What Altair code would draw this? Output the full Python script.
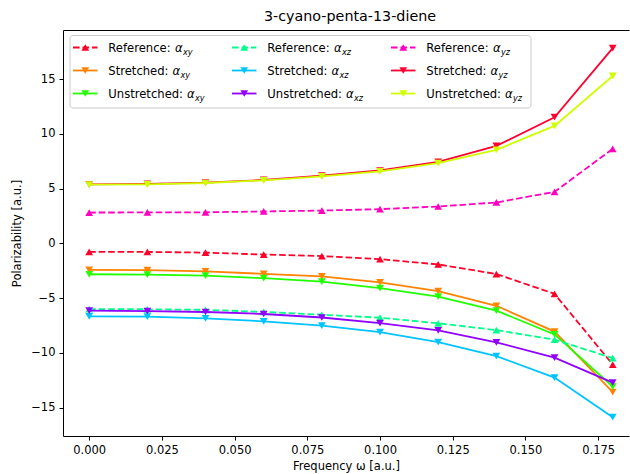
import altair as alt
import pandas as pd

# Frequencies (a.u.) and polarizability components (a.u.)
freq = [0.00, 0.02, 0.04, 0.06, 0.08, 0.10, 0.12, 0.14, 0.16, 0.18]

ref_xy = [-0.77, -0.78, -0.84, -1.02, -1.16, -1.44, -1.92, -2.80, -4.61, -11.07]
str_xy = [-2.42, -2.45, -2.55, -2.78, -3.02, -3.57, -4.37, -5.70, -8.06, -13.60]
uns_xy = [-2.82, -2.85, -2.95, -3.18, -3.50, -4.08, -4.86, -6.14, -8.32, -13.08]

ref_xz = [-6.00, -6.02, -6.07, -6.26, -6.52, -6.79, -7.30, -7.92, -8.80, -10.48]
str_xz = [-6.66, -6.70, -6.86, -7.12, -7.52, -8.10, -9.02, -10.30, -12.26, -15.88]
uns_xz = [-6.15, -6.18, -6.27, -6.45, -6.77, -7.28, -7.94, -9.04, -10.44, -12.72]

ref_yz = [2.82, 2.83, 2.84, 2.92, 3.00, 3.13, 3.37, 3.74, 4.71, 8.64]
str_yz = [5.40, 5.43, 5.55, 5.80, 6.20, 6.66, 7.45, 8.91, 11.53, 17.85]
uns_yz = [5.37, 5.40, 5.52, 5.76, 6.13, 6.58, 7.33, 8.55, 10.74, 15.30]

x_ticks = [0.0, 0.025, 0.05, 0.075, 0.1, 0.125, 0.15, 0.175]
y_ticks = [-15, -10, -5, 0, 5, 10, 15]

# (label prefix, subscript, values, colour, reference?)
series = [
    ("Reference: ", "xy", ref_xy, "#ff0029", True),
    ("Stretched: ", "xy", str_xy, "#ff8300", False),
    ("Unstretched: ", "xy", uns_xy, "#22ff00", False),
    ("Reference: ", "xz", ref_xz, "#00ff8a", True),
    ("Stretched: ", "xz", str_xz, "#00c4ff", False),
    ("Unstretched: ", "xz", uns_xz, "#9100ff", False),
    ("Reference: ", "yz", ref_yz, "#ff00bf", True),
    ("Stretched: ", "yz", str_yz, "#ff0030", False),
    ("Unstretched: ", "yz", uns_yz, "#cfff00", False),
]

FONT = "DejaVu Sans"
W, H = 566, 406
X_DOM = [-0.009, 0.1856]
Y_DOM = [-17.6, 19.5]
DASH = [6.6, 2.9]
MARK_SIZE = 60

xs = alt.Scale(domain=X_DOM, nice=False, zero=False)
ys = alt.Scale(domain=Y_DOM, nice=False, zero=False)

axis_style = dict(
    domainColor="black", tickColor="black", labelColor="black", titleColor="black",
    labelFont=FONT, titleFont=FONT, labelFontSize=11.5, titleFontSize=11.5,
    titleFontWeight="normal", tickSize=4, labelPadding=4, grid=False,
    domainWidth=1, tickWidth=1,
)

x_plain = alt.X("freq:Q", scale=xs, axis=None)
y_plain = alt.Y("value:Q", scale=ys, axis=None)

layers = []
for i, (prefix, sub, vals, color, is_ref) in enumerate(series):
    df = pd.DataFrame({"freq": freq, "value": vals})
    if i == 0:
        # the only layer that carries the bottom and left axes
        xenc = alt.X("freq:Q", scale=xs, axis=alt.Axis(
            values=x_ticks, format=".3f", title="Frequency ω [a.u.]",
            titlePadding=5, **axis_style))
        yenc = alt.Y("value:Q", scale=ys, axis=alt.Axis(
            values=y_ticks, format="d", title="Polarizability [a.u.]",
            titlePadding=8, **axis_style))
    else:
        xenc, yenc = x_plain, y_plain
    line_kw = dict(color=color, strokeWidth=1.8)
    if is_ref:
        line_kw["strokeDash"] = DASH
    layers.append(alt.Chart(df).mark_line(**line_kw).encode(x=xenc, y=yenc))
    layers.append(alt.Chart(df).mark_point(
        shape="triangle-up" if is_ref else "triangle-down",
        filled=True, size=MARK_SIZE, color=color, opacity=1).encode(x=x_plain, y=y_plain))

# top frame line
top_frame = alt.Chart(pd.DataFrame({"freq": [0.0], "value": [0.0]})).mark_point(opacity=0).encode(
    x=alt.X("freq:Q", scale=xs, axis=alt.Axis(orient="top", labels=False, ticks=False,
                                                title=None, domainColor="black",
                                                domainWidth=1, grid=False)),
    y=y_plain,
)
layers.append(top_frame)

# ---- legend (three columns, column-major order) ----
LEG_FS = 11.6
SUB_FS = 8.1
CHAR_W = {' ': 0.318, ':': 0.337, 'R': 0.695, 'S': 0.635, 'U': 0.732, 'a': 0.613,
          'c': 0.550, 'd': 0.635, 'e': 0.615, 'f': 0.352, 'h': 0.634, 'n': 0.634,
          'r': 0.411, 's': 0.521, 't': 0.392}
ALPHA_W = 0.66


def text_width(s, fs):
    return sum(CHAR_W.get(c, 0.6) for c in s) * fs


COL_STEP = 159.0
ROW_Y0, ROW_STEP = 17.5, 23.0
HANDLE_X0, HANDLE_LEN = 10.0, 24.5
TEXT_X0 = 45.3

rows = []
for i, (prefix, sub, vals, color, is_ref) in enumerate(series):
    col, row = divmod(i, 3)
    yc = ROW_Y0 + row * ROW_STEP
    hx0 = HANDLE_X0 + col * COL_STEP
    tx = TEXT_X0 + col * COL_STEP
    ax = tx + text_width(prefix, LEG_FS)
    rows.append(dict(prefix=prefix, alpha="α", sub=sub, color=color, ref=is_ref,
                     hx0=hx0, hx1=hx0 + HANDLE_LEN, hm=hx0 + HANDLE_LEN / 2,
                     yc=yc, ty=yc + 4.2, sy=yc + 7.0, tx=tx, ax=ax,
                     sx=ax + ALPHA_W * LEG_FS + 0.3))
leg = pd.DataFrame(rows)

px = lambda f: alt.X(f, scale=None, axis=None)
py = lambda f: alt.Y(f, scale=None, axis=None)

legend_box = alt.Chart(pd.DataFrame({"k": [0]})).mark_rect(
    fill="white", fillOpacity=0.8, stroke="#cccccc", strokeWidth=1, cornerRadius=3
).encode(x=alt.value(7), x2=alt.value(468), y=alt.value(5.5), y2=alt.value(78))
layers.append(legend_box)

lbase = alt.Chart(leg)
layers.append(lbase.transform_filter("datum.ref").mark_rule(strokeWidth=1.8, strokeDash=DASH).encode(
    x=px("hx0:Q"), x2="hx1:Q", y=py("yc:Q"), color=alt.Color("color:N", scale=None)))
layers.append(lbase.transform_filter("!datum.ref").mark_rule(strokeWidth=1.8).encode(
    x=px("hx0:Q"), x2="hx1:Q", y=py("yc:Q"), color=alt.Color("color:N", scale=None)))
layers.append(lbase.transform_filter("datum.ref").mark_point(
    shape="triangle-up", filled=True, size=MARK_SIZE, opacity=1).encode(
    x=px("hm:Q"), y=py("yc:Q"), color=alt.Color("color:N", scale=None)))
layers.append(lbase.transform_filter("!datum.ref").mark_point(
    shape="triangle-down", filled=True, size=MARK_SIZE, opacity=1).encode(
    x=px("hm:Q"), y=py("yc:Q"), color=alt.Color("color:N", scale=None)))
layers.append(lbase.mark_text(align="left", baseline="alphabetic", font=FONT,
                              fontSize=LEG_FS, color="black").encode(
    x=px("tx:Q"), y=py("ty:Q"), text="prefix:N"))
layers.append(lbase.mark_text(align="left", baseline="alphabetic", font=FONT,
                              fontSize=LEG_FS, fontStyle="italic", color="black").encode(
    x=px("ax:Q"), y=py("ty:Q"), text="alpha:N"))
layers.append(lbase.mark_text(align="left", baseline="alphabetic", font=FONT,
                              fontSize=SUB_FS, fontStyle="italic", color="black").encode(
    x=px("sx:Q"), y=py("sy:Q"), text="sub:N"))

chart = alt.layer(*layers).resolve_scale(
    x="independent", y="independent"
).properties(
    width=W, height=H,
    title=alt.TitleParams("3-cyano-penta-13-diene", font=FONT, fontSize=14.3,
                          fontWeight="normal", color="black", anchor="middle",
                          dx=4, offset=6),
    padding={"left": 63, "top": 30, "right": 1, "bottom": 38},
    autosize=alt.AutoSizeParams(type="none"),
    background="white",
).configure_view(stroke=None)

chart.save("out.html", embed_options={"renderer": "svg", "actions": False})
